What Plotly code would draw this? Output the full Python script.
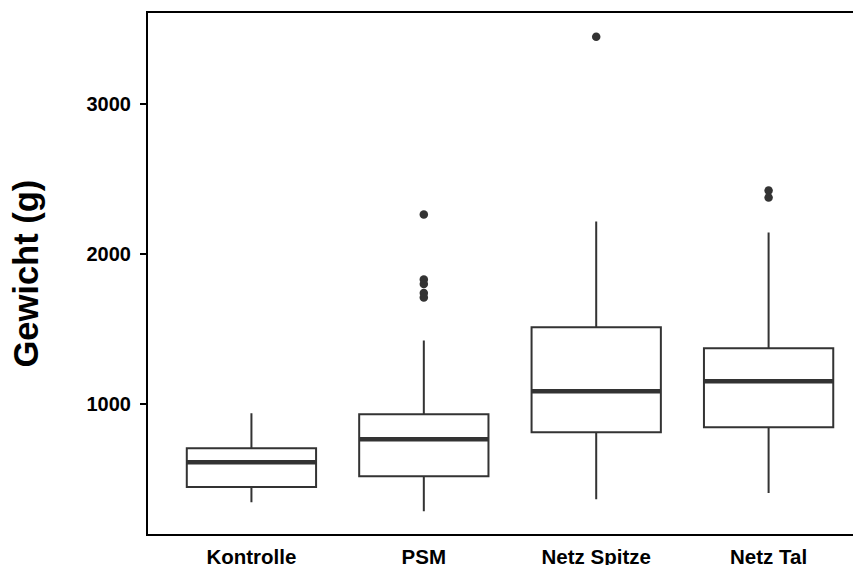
import plotly.graph_objects as go

categories = ["Kontrolle", "PSM", "Netz Spitze", "Netz Tal"]
lower_whisker = [349, 289, 369, 409]
q1_values = [449, 522, 814, 847]
median_values = [615, 767, 1086, 1153]
q3_values = [708, 934, 1512, 1372]
upper_whisker = [940, 1425, 2216, 2143]
outliers = [[], [2262, 1830, 1800, 1740, 1710], [3445], [2422, 2375]]
y_ticks = [1000, 2000, 3000]

positions = list(range(len(categories)))
box_width = 0.75
line_col = "#333333"

fig = go.Figure()
fig.add_trace(go.Box(
    x=positions,
    q1=q1_values, median=median_values, q3=q3_values,
    lowerfence=lower_whisker, upperfence=upper_whisker,
    width=box_width, whiskerwidth=0,
    fillcolor="white",
    line=dict(color=line_col, width=2),
    boxpoints=False,
    showlegend=False, hoverinfo="skip",
))

# thicker median lines, as in ggplot
mx, my = [], []
for p, m in zip(positions, median_values):
    mx += [p - box_width / 2, p + box_width / 2, None]
    my += [m, m, None]
fig.add_trace(go.Scatter(x=mx, y=my, mode="lines",
                         line=dict(color=line_col, width=4.5),
                         showlegend=False, hoverinfo="skip"))

ox, oy = [], []
for p, vals in zip(positions, outliers):
    for v in vals:
        ox.append(p)
        oy.append(v)
fig.add_trace(go.Scatter(x=ox, y=oy, mode="markers",
                         marker=dict(color=line_col, size=8.5),
                         showlegend=False, hoverinfo="skip"))

font_fam = "Liberation Sans, Arial, sans-serif"
fig.update_layout(
    width=853, height=557,
    margin=dict(l=140, r=0, t=5, b=31, autoexpand=False),
    paper_bgcolor="white", plot_bgcolor="white",
    font=dict(family=font_fam, color="black"),
    xaxis=dict(
        range=[-0.6, 3.536],
        tickvals=positions, ticktext=categories,
        tickfont=dict(size=20.5, weight="bold", color="black", family=font_fam),
        ticks="", showgrid=False, zeroline=False, ticklabelstandoff=3,
        showline=True, linecolor="black", linewidth=2, mirror=True,
        automargin=False,
    ),
    yaxis=dict(
        range=[137, 3603],
        tickvals=y_ticks, ticktext=[str(v) for v in y_ticks],
        tickfont=dict(size=20, weight="bold", color="black", family=font_fam),
        ticks="outside", ticklen=6, tickwidth=2, tickcolor="black",
        ticklabelstandoff=5,
        showgrid=False, zeroline=False,
        showline=True, linecolor="black", linewidth=2, mirror=False,
        automargin=False,
    ),
    annotations=[dict(
        text="Gewicht (g)", textangle=-90,
        xref="paper", yref="paper", x=-0.1725, y=0.5,
        xanchor="center", yanchor="middle", showarrow=False,
        font=dict(size=34.5, weight="bold", color="black", family=font_fam),
    )],
)

fig.write_html("out.html")
